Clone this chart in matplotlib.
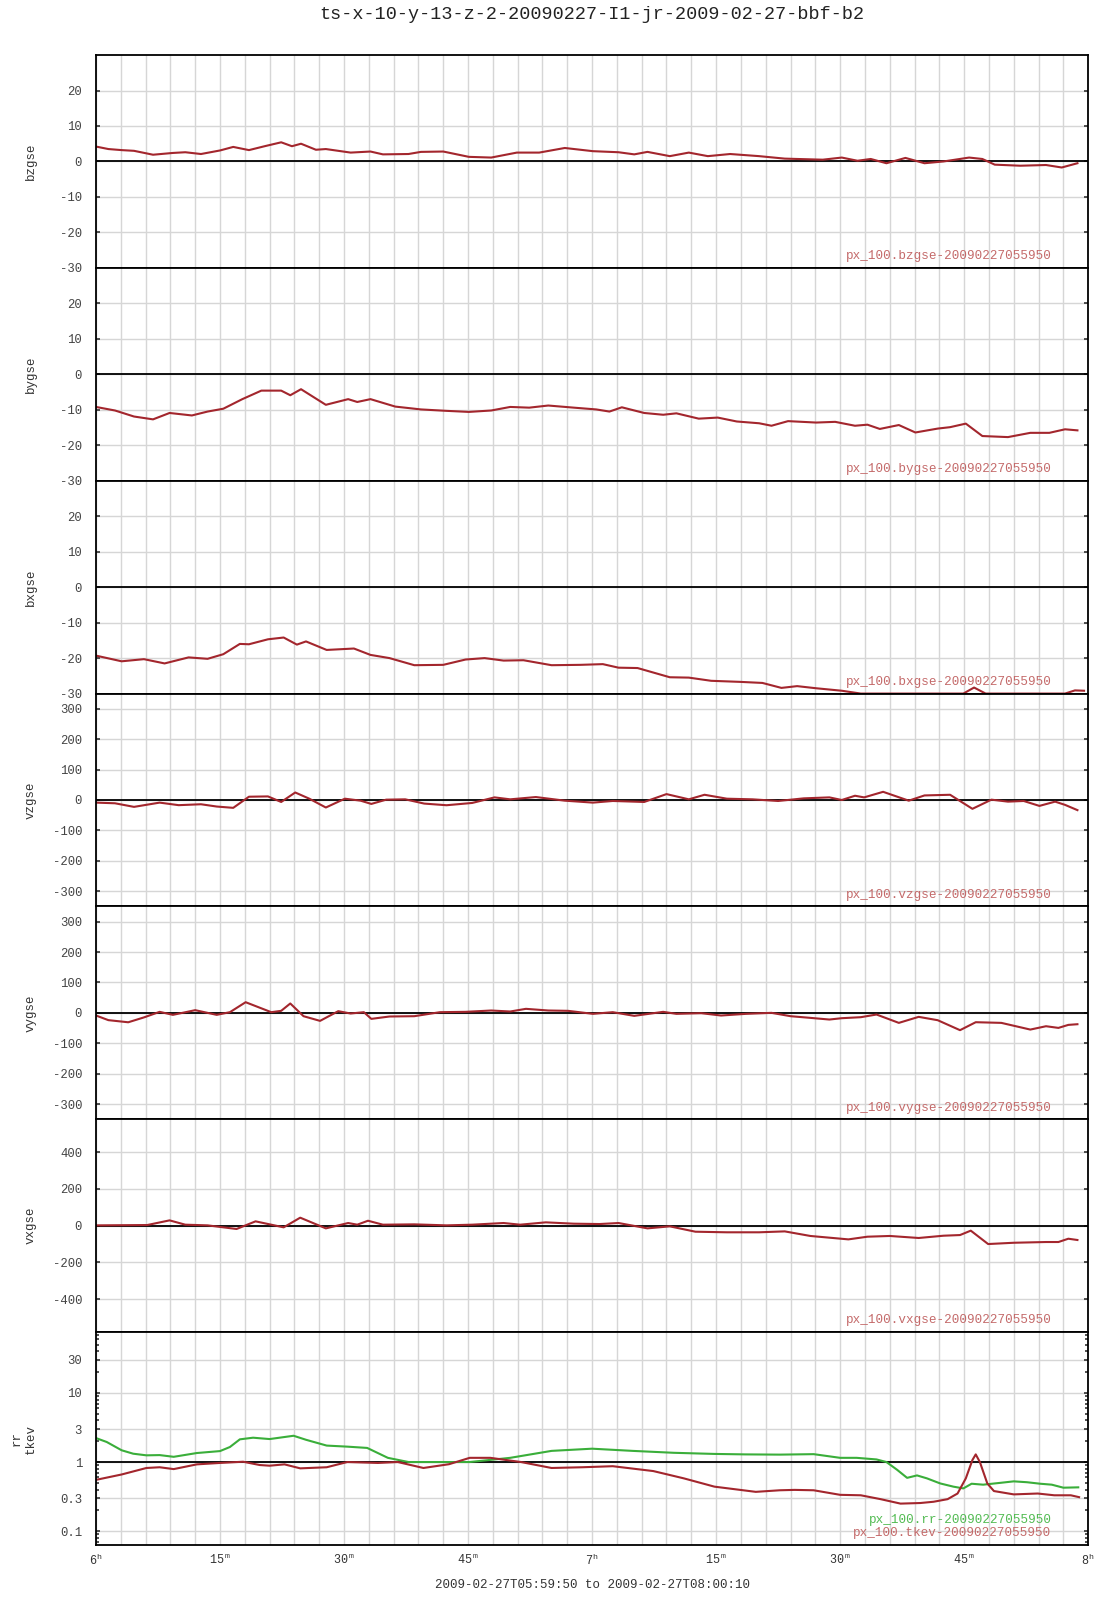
import numpy as np
import matplotlib
matplotlib.use("Agg")
import matplotlib.pyplot as plt
from matplotlib.ticker import FuncFormatter, FixedLocator, NullFormatter

plt.rcParams.update({
    "font.family": ["Liberation Mono", "DejaVu Sans Mono"],
    "font.size": 8.5,
    "mathtext.fontset": "custom",
    "mathtext.rm": "Liberation Mono",
    "mathtext.it": "Liberation Mono",
    "axes.linewidth": 1.3,
    "xtick.color": "#333333",
    "ytick.color": "#333333",
})

RED = "#a3262d"
GREEN = "#3aae3a"
ANN_RED = "#c46a6a"
ANN_GREEN = "#52bb52"
GRID = "#d6d6d6"

TITLE = "ts-x-10-y-13-z-2-20090227-I1-jr-2009-02-27-bbf-b2"
SPAN = "2009-02-27T05:59:50 to 2009-02-27T08:00:10"
STAMP = "20090227055950"

# minutes after 06:00
bz_t = [0, 1.5, 3.1, 4.6, 6.9, 9.3, 10.8, 12.7, 15.0, 16.6, 18.5, 20.4, 22.4, 23.7, 24.8, 26.6,
        27.8, 30.8, 33.2, 34.7, 37.8, 39.3, 42.0, 45.1, 47.8, 50.9, 53.6, 56.7, 60.1, 63.2, 65.1,
        66.7, 69.4, 71.7, 74.0, 76.7, 80.2, 83.3, 87.9, 90.2, 92.1, 93.7, 95.6, 97.9, 100.2,
        102.5, 105.6, 107.2, 108.7, 111.8, 114.9, 116.8, 118.7]
bz_v = [4.2, 3.5, 3.2, 3.0, 1.9, 2.4, 2.6, 2.1, 3.1, 4.1, 3.2, 4.3, 5.4, 4.3, 5.0, 3.3,
        3.5, 2.5, 2.8, 2.0, 2.1, 2.7, 2.8, 1.3, 1.1, 2.5, 2.5, 3.8, 2.9, 2.6, 2.0,
        2.7, 1.5, 2.5, 1.5, 2.1, 1.5, 0.8, 0.5, 1.1, 0.2, 0.7, -0.5, 1.0, -0.5,
        0.0, 1.1, 0.7, -0.9, -1.2, -1.0, -1.7, -0.5]

by_t = [0, 2.3, 4.6, 6.9, 8.9, 11.6, 13.5, 15.4, 17.7, 20.0, 22.4, 23.5, 24.8, 27.8, 30.5,
        31.6, 33.2, 36.2, 39.3, 42.4, 45.1, 47.8, 50.1, 52.4, 54.7, 57.8, 60.5, 62.1, 63.6,
        66.3, 68.6, 70.2, 72.9, 75.2, 77.5, 80.2, 81.7, 83.7, 87.1, 89.4, 91.8, 93.3, 94.8,
        97.1, 99.1, 101.8, 103.3, 105.2, 107.2, 110.3, 113.0, 115.3, 117.2, 118.7]
by_v = [-9.2, -10.2, -11.9, -12.7, -10.9, -11.6, -10.5, -9.7, -7.0, -4.6, -4.6, -5.9, -4.2,
        -8.6, -7.0, -7.8, -7.0, -9.1, -9.9, -10.3, -10.6, -10.2, -9.2, -9.4, -8.8, -9.4,
        -9.9, -10.5, -9.3, -10.9, -11.4, -11.0, -12.5, -12.2, -13.3, -13.8, -14.5, -13.2,
        -13.6, -13.4, -14.5, -14.2, -15.4, -14.3, -16.4, -15.3, -14.9, -13.9, -17.4, -17.7,
        -16.5, -16.5, -15.5, -15.8]

bx_t = [0, 3.1, 5.8, 8.3, 11.2, 13.5, 15.4, 17.4, 18.5, 20.8, 22.7, 24.3, 25.4, 27.9, 31.2,
        33.2, 35.5, 38.5, 42.0, 44.7, 47.0, 49.3, 51.7, 55.1, 58.6, 61.3, 63.2, 65.5, 69.4,
        71.7, 74.4, 77.9, 80.6, 82.9, 84.8, 87.1, 90.2, 92.5, 104.9, 106.2, 107.6, 117.2,
        118.4, 119.5]
bx_v = [-19.3, -20.9, -20.3, -21.5, -19.8, -20.2, -18.9, -16.0, -16.1, -14.7, -14.2, -16.2,
        -15.3, -17.7, -17.3, -19.1, -20.0, -22.0, -21.9, -20.4, -20.0, -20.7, -20.6, -22.0,
        -21.9, -21.7, -22.7, -22.8, -25.4, -25.5, -26.4, -26.7, -27.0, -28.4, -27.9, -28.5,
        -29.2, -30.0, -30.0, -28.3, -30.0, -30.0, -29.1, -29.2]

vz_t = [0, 2.3, 4.6, 7.7, 10.0, 12.7, 14.6, 16.6, 18.5, 20.8, 22.4, 24.1, 25.8, 27.8, 30.1,
        32.0, 33.3, 35.1, 37.4, 39.7, 42.4, 45.5, 48.2, 50.1, 53.2, 56.7, 60.1, 62.5, 66.3,
        69.0, 71.7, 73.6, 76.3, 79.4, 82.5, 85.6, 88.7, 90.2, 91.8, 92.9, 95.2, 98.3, 100.2,
        103.3, 106.0, 108.3, 110.3, 112.2, 114.1, 116.0, 117.2, 118.7]
vz_v = [-8.6, -10.8, -22.6, -8.6, -17.0, -14.0, -21.5, -25.8, 10.8, 11.8, -6.5, 24.7, 4.3,
        -24.7, 4.3, -2.2, -12.9, 1.1, 2.2, -11.8, -17.2, -9.7, 8.6, 2.2, 9.7, -2.2, -8.6,
        -3.2, -6.5, 19.4, 2.2, 17.2, 4.3, 2.2, -3.2, 5.4, 8.6, 0.0, 14.0, 8.6, 26.9, -2.2,
        15.0, 17.2, -29.0, 1.1, -5.4, -3.2, -19.4, -5.4, -16.0, -33.3]

vy_t = [0, 1.5, 3.9, 5.8, 7.7, 9.3, 12.0, 14.6, 16.2, 18.1, 21.2, 22.4, 23.5, 25.1, 27.1,
        29.3, 30.8, 32.4, 33.3, 35.5, 38.5, 41.6, 44.7, 47.8, 50.1, 52.0, 54.7, 57.1, 60.1,
        62.5, 65.1, 68.6, 70.2, 73.2, 75.6, 78.6, 81.7, 84.0, 86.4, 88.7, 90.2, 92.5, 94.4,
        97.1, 99.5, 101.8, 104.5, 106.4, 109.5, 113.0, 114.9, 116.4, 117.6, 118.7]
vy_v = [-8.8, -24.0, -31.0, -15.0, 3.3, -6.6, 8.8, -6.6, 2.2, 35.0, 2.2, 6.6, 30.8, -11.0,
        -26.4, 5.5, -2.2, 2.2, -19.8, -12.0, -11.0, 2.2, 3.3, 7.7, 4.4, 13.2, 7.7, 6.6, -3.3,
        2.2, -9.9, 3.3, -3.3, -1.1, -8.8, -3.3, 0.0, -11.0, -16.5, -22.0, -17.6, -14.3, -5.5,
        -33.0, -13.2, -24.2, -57.0, -30.8, -33.0, -55.0, -44.0, -49.5, -39.6, -37.4]

vx_t = [0, 6.2, 8.9, 10.8, 13.5, 17.0, 19.3, 22.7, 24.7, 27.8, 30.5, 31.6, 32.9, 34.7,
        38.5, 42.4, 45.5, 49.3, 51.3, 54.4, 57.8, 60.9, 63.2, 66.7, 69.4, 72.5, 76.3, 80.2,
        83.3, 86.4, 91.0, 93.3, 96.0, 99.5, 102.5, 104.5, 105.8, 107.9, 111.0, 114.9, 116.4,
        117.6, 118.7]
vx_v = [1.8, 3.6, 29.0, 5.5, 1.8, -18.0, 23.7, -9.0, 43.7, -14.6, 14.6, 5.5, 27.0, 5.5,
        7.3, 1.8, 5.5, 14.6, 5.5, 18.2, 10.9, 9.0, 14.6, -14.6, -3.6, -32.8, -36.0, -36.0,
        -31.0, -56.0, -74.6, -60.0, -56.0, -67.0, -54.6, -51.0, -27.0, -100.0, -93.0, -89.0,
        -89.0, -71.0, -78.0]

rr_t = [0.1, 1.3, 3.1, 4.5, 6.1, 7.7, 9.4, 12.2, 15.0, 16.2, 17.4, 19.0, 21.0, 23.9, 25.4,
        27.9, 30.4, 32.8, 35.3, 37.8, 41.5, 45.2, 50.1, 55.1, 60.0, 64.9, 69.9, 74.8, 78.5,
        82.7, 86.8, 90.0, 92.0, 94.4, 95.6, 96.9, 98.1, 99.3, 100.5, 102.1, 103.7, 104.9,
        105.9, 107.3, 109.4, 111.0, 112.6, 114.2, 115.6, 117.0, 118.8]
rr_v = [2.2, 1.95, 1.48, 1.32, 1.25, 1.26, 1.19, 1.35, 1.44, 1.65, 2.13, 2.25, 2.15, 2.4, 2.1,
        1.73, 1.67, 1.6, 1.15, 1.0, 1.0, 1.0, 1.15, 1.45, 1.56, 1.45, 1.36, 1.31, 1.29,
        1.28, 1.3, 1.15, 1.15, 1.09, 1.0, 0.77, 0.59, 0.64, 0.58, 0.49, 0.44, 0.415,
        0.485, 0.47, 0.5, 0.525, 0.51, 0.485, 0.47, 0.425, 0.43]

tkev_t = [0.1, 3.1, 6.1, 7.7, 9.4, 12.2, 15.0, 17.8, 19.8, 21.0, 22.8, 24.7, 27.9, 30.4,
          34.1, 36.5, 39.6, 42.7, 45.2, 47.7, 51.4, 55.1, 58.8, 62.5, 67.4, 71.1, 74.8, 79.8,
          82.7, 84.5, 86.8, 90.0, 92.5, 94.9, 97.3, 99.7, 101.3, 103.0, 104.2, 105.2, 106.0,
          106.4, 106.9, 107.8, 108.6, 111.0, 113.9, 115.9, 117.9, 118.9]
tkev_v = [0.555, 0.66, 0.82, 0.84, 0.79, 0.925, 0.97, 1.01, 0.905, 0.885, 0.925, 0.81, 0.84,
          1.0, 0.97, 1.0, 0.82, 0.93, 1.15, 1.15, 1.0, 0.82, 0.84, 0.87, 0.74, 0.58, 0.44,
          0.37, 0.39, 0.395, 0.39, 0.335, 0.33, 0.29, 0.25, 0.255, 0.266, 0.29, 0.35, 0.58,
          1.07, 1.29, 1.0, 0.49, 0.38, 0.34, 0.35, 0.33, 0.33, 0.31]

B_TICKS = [-30, -20, -10, 0, 10, 20]
V_TICKS = [-300, -200, -100, 0, 100, 200, 300]
VX_TICKS = [-400, -200, 0, 200, 400]
LOG_TICKS = [0.1, 0.3, 1, 3, 10, 30]
LOG_LABELS = ["0.1", "0.3", "1", "3", "10", "30"]
EDGE_TICKS = [9, 12, 24, 36, 39, 48, 51, 60, 63, 72, 75, 84, 87, 99, 102, 111, 114]

panels = [
    ("bzgse", bz_t, bz_v, (-30, 30), B_TICKS),
    ("bygse", by_t, by_v, (-30, 30), B_TICKS),
    ("bxgse", bx_t, bx_v, (-30, 30), B_TICKS),
    ("vzgse", vz_t, vz_v, (-350, 350), V_TICKS),
    ("vygse", vy_t, vy_v, (-350, 350), V_TICKS),
    ("vxgse", vx_t, vx_v, (-580, 580), VX_TICKS),
]


def time_label(m, pos):
    m = int(round(m))
    if m % 15:
        return ""
    if m % 60 == 0:
        return r"$\mathrm{%d}^{\mathrm{h}}$" % (6 + m // 60)
    return r"$\mathrm{%d}^{\,\mathrm{m}}$" % (m % 60)


fig, axes = plt.subplots(7, 1, figsize=(11.07, 16), dpi=100, sharex=True,
                         gridspec_kw={"hspace": 0})
fig.subplots_adjust(left=0.0867, right=0.983, top=0.9656, bottom=0.0344)

for ax in axes:
    ax.set_xlim(0, 120)
    ax.xaxis.set_major_locator(FixedLocator(np.arange(0, 121, 3)))
    ax.xaxis.set_minor_locator(FixedLocator(EDGE_TICKS))
    ax.grid(True, axis="x", which="major", color=GRID, lw=1.0)
    ax.tick_params(axis="x", which="major", length=0, pad=6, labelsize=8.5)
    ax.tick_params(axis="x", which="minor", direction="in", length=5, width=1.2,
                   top=True, bottom=True)
    ax.tick_params(axis="y", which="major", direction="in", length=3, width=1.2,
                   left=True, right=True, labelsize=8.8, pad=10, labelcolor="#444444")
    ax.set_axisbelow(True)

for ax, (name, t, v, lim, ticks) in zip(axes[:6], panels):
    ax.plot(t, v, color=RED, lw=1.5, solid_joinstyle="round")
    ax.axhline(0, color="black", lw=1.3, zorder=1.5)
    ax.set_ylim(*lim)
    ax.set_yticks(ticks)
    ax.set_yticklabels([str(k) for k in ticks])
    ax.grid(True, axis="y", color=GRID, lw=1.0)
    ax.set_ylabel(name, fontsize=9, color="#333333")
    ax.yaxis.set_label_coords(-0.060, 0.5)
    ax.text(0.963, 0.055, f"px_100.{name}-{STAMP}", transform=ax.transAxes,
            ha="right", va="center", color=ANN_RED, fontsize=9.1)

ax = axes[6]
ax.set_yscale("log")
ax.plot(rr_t, rr_v, color=GREEN, lw=1.5)
ax.plot(tkev_t, tkev_v, color=RED, lw=1.5)
ax.axhline(1, color="black", lw=1.3, zorder=1.5)
ax.set_ylim(0.063, 76)
ax.set_yticks(LOG_TICKS)
ax.set_yticklabels(LOG_LABELS)
ax.yaxis.set_minor_formatter(NullFormatter())
ax.tick_params(axis="y", which="minor", direction="in", length=2.5, width=1.2,
               left=True, right=True)
ax.grid(True, axis="y", which="major", color=GRID, lw=1.0)
ax.set_ylabel("rr\ntkev", fontsize=9, color="#333333", multialignment="center")
ax.yaxis.set_label_coords(-0.060, 0.5)
ax.text(0.963, 0.117, f"px_100.rr-{STAMP}", transform=ax.transAxes,
        ha="right", va="center", color=ANN_GREEN, fontsize=9.1)
ax.text(0.963, 0.056, f"px_100.tkev-{STAMP}", transform=ax.transAxes,
        ha="right", va="center", color=ANN_RED, fontsize=9.1)
ax.xaxis.set_major_formatter(FuncFormatter(time_label))

fig.text(0.535, 0.991, TITLE, ha="center", va="center", fontsize=13.3, color="#222222")
fig.text(0.535, 0.0095, SPAN, ha="center", va="center", fontsize=9, color="#333333")

fig.savefig("out.png", dpi=100)
